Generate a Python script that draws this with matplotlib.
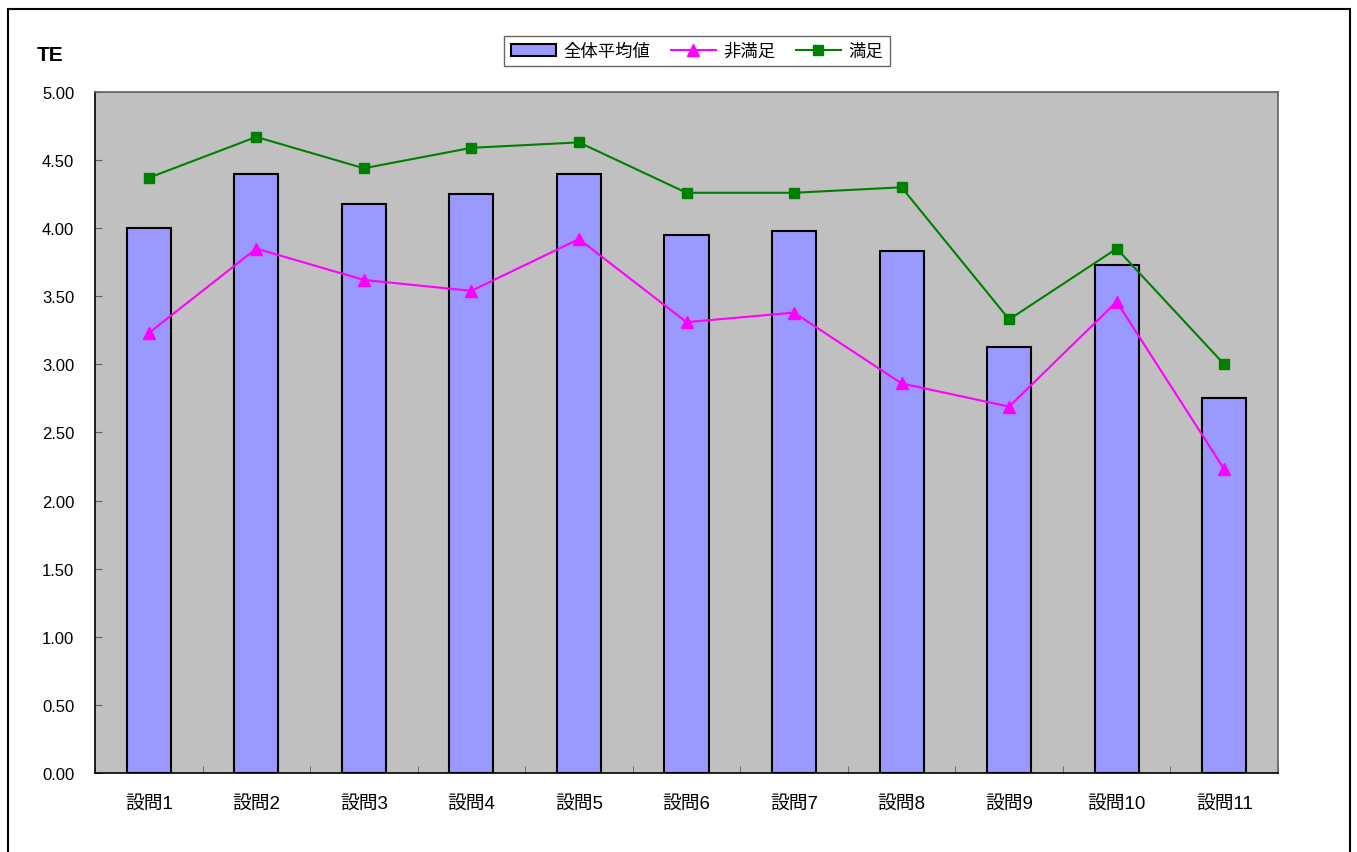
import numpy as np
import matplotlib.pyplot as plt
from matplotlib.patches import Rectangle

plt.rcParams['font.family'] = ['Liberation Sans', 'Noto Sans CJK JP', 'DejaVu Sans']

categories = ['設問1', '設問2', '設問3', '設問4', '設問5', '設問6',
              '設問7', '設問8', '設問9', '設問10', '設問11']
overall_avg = [4.00, 4.40, 4.18, 4.25, 4.40, 3.95, 3.98, 3.83, 3.13, 3.73, 2.75]
unsatisfied = [3.23, 3.85, 3.62, 3.54, 3.92, 3.31, 3.38, 2.86, 2.69, 3.46, 2.23]
satisfied = [4.37, 4.67, 4.44, 4.59, 4.63, 4.26, 4.26, 4.30, 3.33, 3.85, 3.00]
yticks = [0.0, 0.5, 1.0, 1.5, 2.0, 2.5, 3.0, 3.5, 4.0, 4.5, 5.0]

fig = plt.figure(figsize=(13.57, 8.53), dpi=100)
ax = fig.add_axes([0.070, 0.0926, 0.8718, 0.7984])

# outer chart frame (bottom edge runs off the picture)
fig.patches.append(Rectangle((0.006, -0.1), 0.989, 1.088, transform=fig.transFigure,
                             fill=False, edgecolor='black', linewidth=1.5))

x = np.arange(len(categories))
ax.set_facecolor('#C0C0C0')
bars = ax.bar(x, overall_avg, width=0.41, color='#9999FF', edgecolor='black',
              linewidth=1.5, label='全体平均値', zorder=2)
l1, = ax.plot(x, unsatisfied, color='#FF00FF', marker='^', markersize=8,
              linewidth=1.5, label='非満足', zorder=3)
l2, = ax.plot(x, satisfied, color='#008000', marker='s', markersize=7,
              linewidth=1.5, label='満足', zorder=3)

ax.set_xlim(-0.5, len(categories) - 0.5)
ax.set_ylim(0, 5)
ax.set_yticks(yticks)
ax.set_yticklabels([f'{v:.2f}' for v in yticks], fontsize=12)
ax.tick_params(axis='y', direction='in', length=5, pad=15, color='#606060')

ax.set_xticks(x)
ax.set_xticklabels(categories, fontsize=13.5)
ax.tick_params(axis='x', length=0, pad=16)
ax.set_xticks(np.arange(len(categories) + 1) - 0.5, minor=True)
ax.tick_params(axis='x', which='minor', direction='in', length=5, color='#606060')

for s in ['left', 'bottom']:
    ax.spines[s].set_color('black')
    ax.spines[s].set_linewidth(1.2)
for s in ['top', 'right']:
    ax.spines[s].set_color('#606060')
    ax.spines[s].set_linewidth(1.2)

fig.text(0.027, 0.928, 'TE', fontsize=15, fontweight='bold')

leg = fig.legend([bars, l1, l2], ['全体平均値', '非満足', '満足'],
                 loc='center', bbox_to_anchor=(0.5135, 0.939), ncol=3, fontsize=12.5,
                 frameon=True, fancybox=False, edgecolor='#404040',
                 handlelength=2.6, handletextpad=0.4, columnspacing=1.2,
                 borderpad=0.4)
leg.get_frame().set_linewidth(1.0)

fig.savefig('out.png', dpi=100)
